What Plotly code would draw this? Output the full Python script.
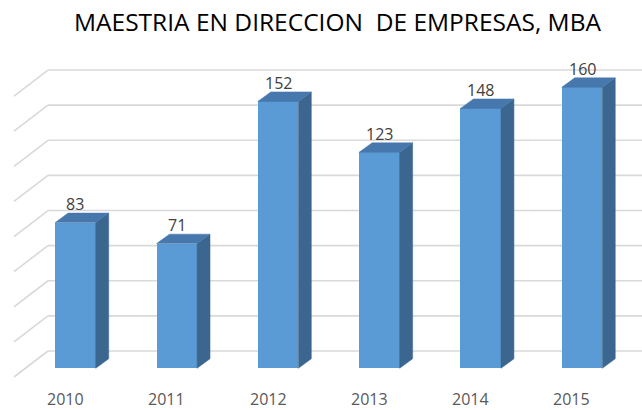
import plotly.graph_objects as go

categories = ["2010", "2011", "2012", "2013", "2014", "2015"]
values = [83, 71, 152, 123, 148, 160]
grid_values = [0, 20, 40, 60, 80, 100, 120, 140, 160]
title_text = "MAESTRIA EN DIRECCION  DE EMPRESAS, MBA"

# oblique-projection constants (data units)
HALF_W = 0.2          # half bar width
DDX, DDY = 0.128, 5.4  # bar depth offset
BACK_DY = 9.85        # back wall offset (vertical)
FRONT_DY = -4.96      # front edge of side wall
X_BACK_LEFT = -0.2715
X_FRONT_LEFT = -0.607
X_RIGHT = 5.7

FRONT = "#5B9BD5"
TOP = "#4677AD"
SIDE = "#3A6690"
GRID = "#D9D9D9"

fig = go.Figure()

# gridlines (side wall + back wall) drawn below the bars
shapes = []
for v in grid_values:
    shapes.append(dict(type="line", xref="x", yref="y", layer="below",
                       x0=X_FRONT_LEFT, y0=v + FRONT_DY, x1=X_BACK_LEFT, y1=v + BACK_DY,
                       line=dict(color=GRID, width=1.6)))
    shapes.append(dict(type="line", xref="x", yref="y", layer="below",
                       x0=X_BACK_LEFT, y0=v + BACK_DY, x1=X_RIGHT, y1=v + BACK_DY,
                       line=dict(color=GRID, width=1.6)))

# side and top faces
for i, v in enumerate(values):
    xr = i + HALF_W
    xl = i - HALF_W
    fig.add_trace(go.Scatter(
        x=[xr, xr, xr + DDX, xr + DDX, xr], y=[0, v, v + DDY, DDY, 0],
        fill="toself", fillcolor=SIDE, mode="lines", line=dict(color=SIDE, width=0.5),
        hoverinfo="skip", showlegend=False))
    fig.add_trace(go.Scatter(
        x=[xl, xr, xr + DDX, xl + DDX, xl], y=[v, v, v + DDY, v + DDY, v],
        fill="toself", fillcolor=TOP, mode="lines", line=dict(color=TOP, width=0.5),
        hoverinfo="skip", showlegend=False))

# front faces
fig.add_trace(go.Bar(x=list(range(len(values))), y=values, width=2 * HALF_W,
                     marker=dict(color=FRONT, line=dict(width=0)),
                     showlegend=False, hoverinfo="skip"))

annotations = []
for i, v in enumerate(values):
    annotations.append(dict(x=i, y=v + DDY + 5.2, xref="x", yref="y", text=str(v),
                            showarrow=False, yanchor="middle",
                            font=dict(family="Open Sans", size=16, color="#404040")))
for i, c in enumerate(categories):
    annotations.append(dict(x=i - 0.099, y=-17.5, xref="x", yref="y", text=c,
                            showarrow=False, yanchor="middle",
                            font=dict(family="Open Sans", size=16, color="#595959")))

fig.update_layout(
    width=642, height=410,
    margin=dict(l=0, r=0, t=0, b=0),
    paper_bgcolor="white", plot_bgcolor="white",
    title=dict(text=title_text, x=337.5 / 642, xanchor="center", y=1 - 22.5 / 410,
               yanchor="middle", yref="container",
               font=dict(family="Open Sans", size=24.5, color="#000000")),
    xaxis=dict(range=[-0.745, 5.592], visible=False, fixedrange=True),
    yaxis=dict(range=[-23.75, 209.74], visible=False, fixedrange=True),
    annotations=annotations,
    shapes=shapes,
    bargap=0,
)

fig.write_html("out.html", config={"displayModeBar": False},
               post_script="document.body.style.margin='0';document.body.style.overflow='hidden';")
